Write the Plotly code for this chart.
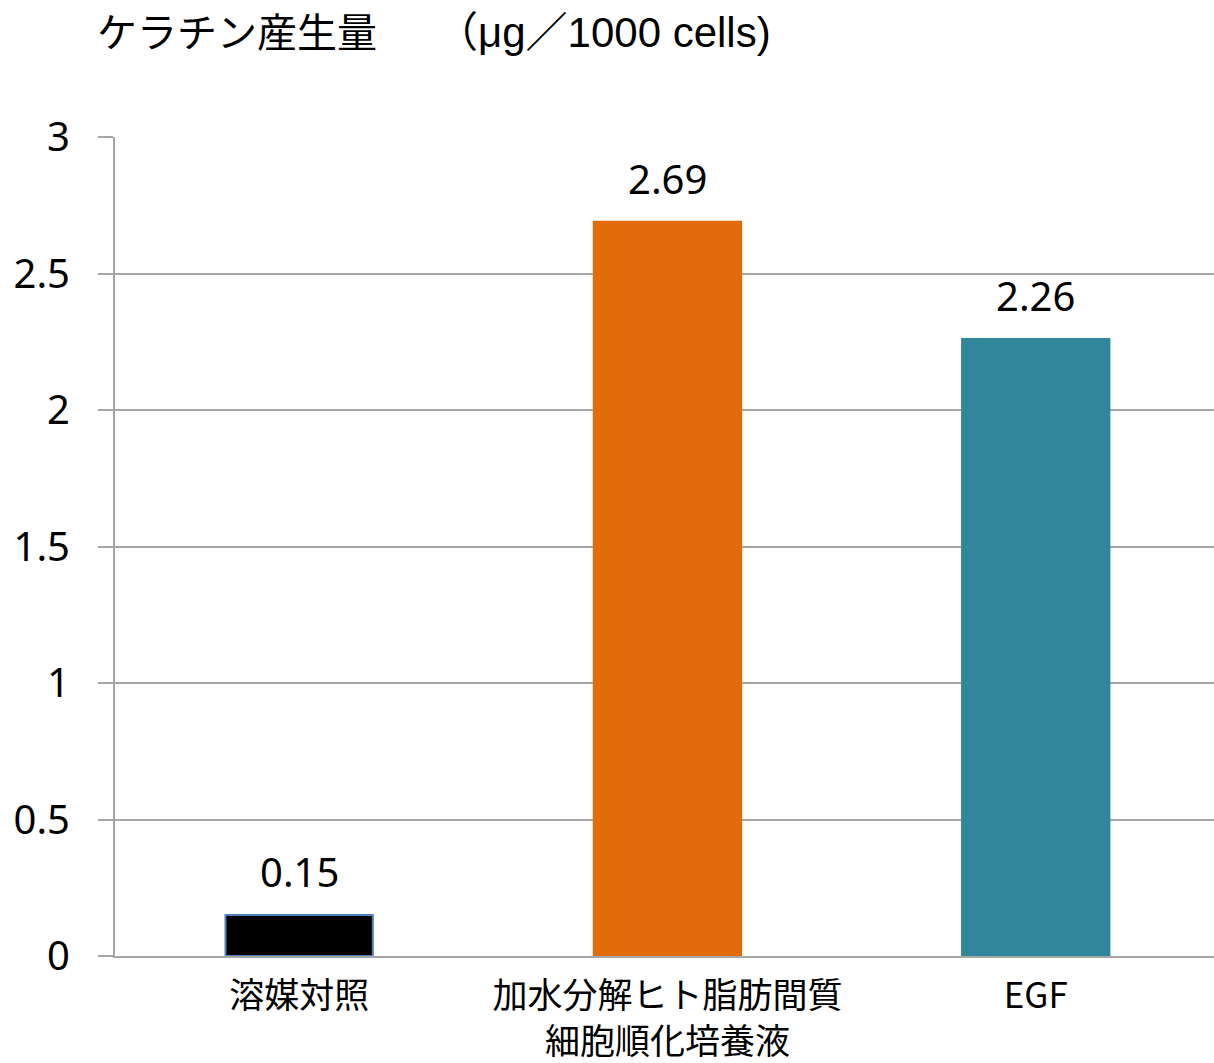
import plotly.graph_objects as go

categories = ["溶媒対照", "加水分解ヒト脂肪間質<br>細胞順化培養液", "EGF"]
values = [0.15, 2.69, 2.26]
bar_colors = ["#000000", "#E36C0A", "#31869B"]
line_colors = ["#4F81BD", "#E36C0A", "#31869B"]
y_ticks = [0, 0.5, 1, 1.5, 2, 2.5, 3]
y_ticktext = ["0", "0.5", "1", "1.5", "2", "2.5", "3"]
title_main = "ケラチン産生量　　"
title_unit = "（μg／1000 cells)"

fig = go.Figure(
    go.Bar(
        x=categories,
        y=values,
        width=0.4,
        marker=dict(color=bar_colors, line=dict(color=line_colors, width=2)),
        cliponaxis=False,
    )
)

annotations = [
    dict(
        x=c, y=v, xref="x", yref="y",
        text=f"{v:.2f}",
        showarrow=False,
        xanchor="center", yanchor="bottom",
        yshift=14,
        font=dict(size=40, color="#000000", family="Noto Sans, sans-serif"),
    )
    for c, v in zip(categories, values)
]
annotations.append(
    dict(
        text=title_main + '<span style="font-size:42px">' + title_unit + "</span>",
        xref="paper", yref="paper",
        x=-0.018, y=1.0, xanchor="left", yanchor="bottom",
        yshift=79,
        showarrow=False,
        font=dict(size=40, color="#000000", family="Liberation Sans, Noto Sans CJK JP, sans-serif"),
    )
)

fig.update_layout(
    width=1214,
    height=1063,
    margin=dict(l=115, r=0, t=137, b=107, autoexpand=False),
    paper_bgcolor="white",
    plot_bgcolor="white",
    showlegend=False,
    bargap=0.6,
    annotations=annotations,
)

fig.update_yaxes(
    range=[0, 3],
    tickvals=y_ticks,
    ticktext=y_ticktext,
    showgrid=True,
    gridcolor="#A6A6A6",
    gridwidth=2,
    showline=True,
    linecolor="#A6A6A6",
    linewidth=2,
    ticks="outside",
    ticklen=15,
    tickwidth=2,
    tickcolor="#A6A6A6",
    ticklabelstandoff=20,
    tickfont=dict(size=40, color="#000000", family="Noto Sans, sans-serif"),
    zeroline=False,
    automargin=False,
)

fig.update_xaxes(
    range=[-0.5, 2.484],
    showline=True,
    linecolor="#A6A6A6",
    linewidth=2,
    ticks="",
    tickfont=dict(size=35, color="#000000", family="Noto Sans CJK JP, sans-serif"),
    ticklabelstandoff=8,
    automargin=False,
)

fig.write_html("out.html")
